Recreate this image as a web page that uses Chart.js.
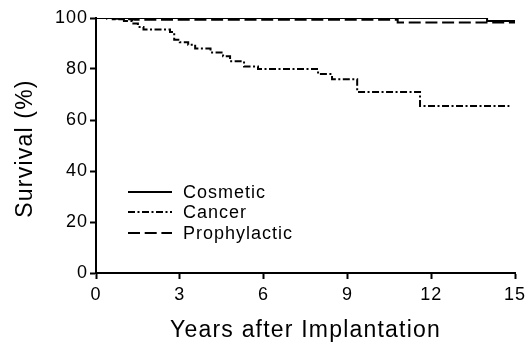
<!DOCTYPE html>
<html><head><meta charset="utf-8">
<script src="https://cdn.jsdelivr.net/npm/chart.js@4"></script>
<style>html,body{margin:0;padding:0;background:#fff}#wrap{width:532px;height:343px}</style>
</head><body><div id="wrap"><canvas id="c" width="532" height="343"></canvas></div>
<script>
const seriesNames = ["Cosmetic", "Cancer", "Prophylactic"];
const cosmeticYears = [0, 0.5, 14.0, 15.0];
const cosmeticSurvival = [100, 100, 98.8, 98.8];
const cancerYears = [0, 0.6, 1.0, 1.3, 1.5, 1.7, 2.65, 2.8, 3.0, 3.3, 3.55, 4.1, 4.55, 4.8, 5.3, 5.8, 7.95, 8.45, 9.35, 11.6, 14.8];
const cancerSurvival = [100, 99.5, 98.8, 97.8, 96.5, 95.5, 94.5, 91.5, 90.5, 89.5, 88, 86.5, 85, 83, 81, 80, 78, 76, 71, 65.5, 65.5];
const prophylacticYears = [0, 0.4, 0.9, 1.4, 10.8, 15.0];
const prophylacticSurvival = [100, 99.7, 99.5, 99.3, 98.2, 98.0];
const xTicks = [0, 3, 6, 9, 12, 15];
const yTicks = [0, 20, 40, 60, 80, 100];
const xTitle = 'Years after Implantation';
const yTitle = 'Survival (%)';

const pts = (xs, ys) => xs.map((x, i) => ({x, y: ys[i]}));
const FONT = "'Liberation Sans', Arial, sans-serif";

const textPlugin = {
  id: 'textstyle',
  beforeDraw(chart) { chart.ctx.letterSpacing = '1px'; },
  afterDraw(chart) {
    const ctx = chart.ctx;
    const a = chart.chartArea;
    ctx.save();
    ctx.letterSpacing = '1.2px';
    ctx.fillStyle = '#000';
    ctx.font = "23px " + FONT;
    ctx.textAlign = 'center';
    ctx.textBaseline = 'alphabetic';
    ctx.fillText(xTitle, (a.left + a.right) / 2, 337);
    ctx.translate(32, (a.top + a.bottom) / 2 + 3);
    ctx.rotate(-Math.PI / 2);
    ctx.fillText(yTitle, 0, 0);
    ctx.restore();
  },
  afterDatasetsDraw(chart) {
    const ctx = chart.ctx;
    const x0 = 128, x1 = 172, tx = 183, ys = [192, 212, 233];
    ctx.save();
    ctx.letterSpacing = '1px';
    chart.data.datasets.forEach((ds, i) => {
      ctx.beginPath();
      ctx.setLineDash(ds.borderDash || []);
      ctx.lineWidth = 2;
      ctx.strokeStyle = '#000';
      ctx.moveTo(x0, ys[i]); ctx.lineTo(x1, ys[i]);
      ctx.stroke();
      ctx.setLineDash([]);
      ctx.fillStyle = '#000';
      ctx.font = "18px " + FONT;
      ctx.textBaseline = 'middle';
      ctx.fillText(ds.label, tx, ys[i] + 1);
    });
    ctx.restore();
  }
};

new Chart(document.getElementById('c'), {
  type: 'line',
  data: {
    datasets: [
      {label: seriesNames[0], data: pts(cosmeticYears, cosmeticSurvival), borderColor: '#000', borderWidth: 2, stepped: true, pointRadius: 0, borderDash: []},
      {label: seriesNames[1], data: pts(cancerYears, cancerSurvival), borderColor: '#000', borderWidth: 2, stepped: true, pointRadius: 0, borderDash: [7, 2.5, 2, 2.5]},
      {label: seriesNames[2], data: pts(prophylacticYears, prophylacticSurvival), borderColor: '#000', borderWidth: 2, stepped: true, pointRadius: 0, borderDash: [12, 4.7]}
    ]
  },
  options: {
    responsive: false,
    animation: false,
    layout: {padding: {left: 0, right: 17, top: 18, bottom: 0}},
    plugins: {legend: {display: false}, tooltip: {enabled: false}},
    scales: {
      x: {
        type: 'linear', min: 0, max: 15,
        afterBuildTicks: s => { s.ticks = xTicks.map(v => ({value: v})); },
        afterFit: s => { s.height = 70; },
        grid: {drawOnChartArea: false, color: '#000', tickLength: 6, tickWidth: 2},
        border: {display: true, color: '#000', width: 2},
        ticks: {color: '#000', font: {size: 18, family: FONT}, padding: 5, maxRotation: 0},
        title: {display: false}
      },
      y: {
        type: 'linear', min: 0, max: 100,
        afterBuildTicks: s => { s.ticks = yTicks.map(v => ({value: v})); },
        afterFit: s => { s.width = 96; },
        grid: {drawOnChartArea: false, color: '#000', tickLength: 6, tickWidth: 2},
        border: {display: true, color: '#000', width: 2},
        ticks: {color: '#000', font: {size: 18, family: FONT}, padding: 2},
        title: {display: false}
      }
    }
  },
  plugins: [textPlugin]
});
</script></body></html>
